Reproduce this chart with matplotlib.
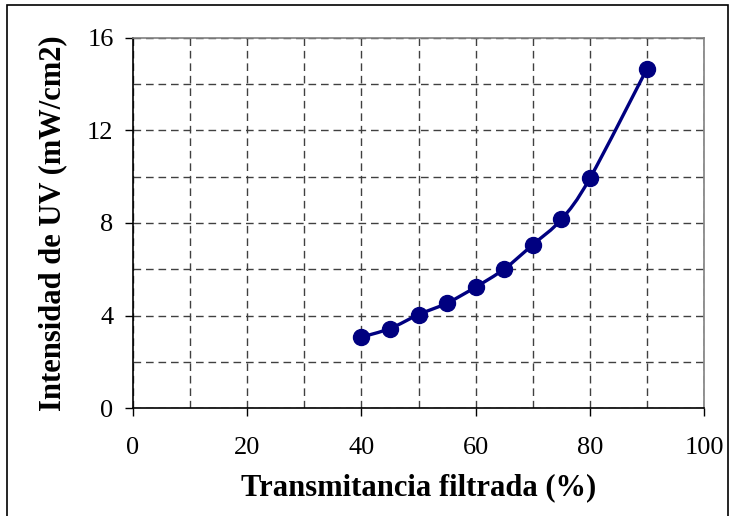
import matplotlib
matplotlib.use('Agg')

import numpy as np
import matplotlib.pyplot as plt
from matplotlib.path import Path
from matplotlib.patches import PathPatch, Rectangle

# Data
transmitancia = [40, 45, 50, 55, 60, 65, 70, 75, 80, 90]
intensidad = [3.07, 3.44, 4.04, 4.54, 5.23, 6.01, 7.06, 8.15, 9.93, 14.66]

x_ticks = [0, 20, 40, 60, 80, 100]
y_ticks = [0, 4, 8, 12, 16]

navy = '#000080'

plt.rcParams['font.family'] = ['Liberation Serif', 'DejaVu Serif']


def smooth_path(xs, ys, tension=1 / 6):
    # Catmull-Rom style Bezier segments through the points (Excel "smoothed line")
    xs = np.asarray(xs, float)
    ys = np.asarray(ys, float)
    n = len(xs)
    verts = [(xs[0], ys[0])]
    codes = [Path.MOVETO]
    for i in range(n - 1):
        i0 = max(i - 1, 0)
        i3 = min(i + 2, n - 1)
        c1 = (xs[i] + (xs[i + 1] - xs[i0]) * tension, ys[i] + (ys[i + 1] - ys[i0]) * tension)
        c2 = (xs[i + 1] - (xs[i3] - xs[i]) * tension, ys[i + 1] - (ys[i3] - ys[i]) * tension)
        verts += [c1, c2, (xs[i + 1], ys[i + 1])]
        codes += [Path.CURVE4] * 3
    return Path(verts, codes)


fig = plt.figure(figsize=(7.35, 5.16), dpi=100)
ax = fig.add_axes([0.181, 0.209, 0.777, 0.718])

ax.add_patch(PathPatch(smooth_path(transmitancia, intensidad), facecolor='none',
                       edgecolor=navy, linewidth=2.4, zorder=3))
ax.plot(transmitancia, intensidad, linestyle='none', marker='o', markersize=11.5,
        color=navy, zorder=4)

ax.set_xlim(0, 100)
ax.set_ylim(0, 16)
ax.set_xticks(x_ticks)
ax.set_yticks(y_ticks)
ax.set_xticks(np.arange(10, 100, 20), minor=True)
ax.set_yticks(np.arange(2, 16, 4), minor=True)
ax.tick_params(which='major', direction='out', length=6, width=1, labelsize=19,
               colors='black')
ax.tick_params(axis='x', which='major', pad=15)
ax.tick_params(axis='y', which='major', pad=8)
ax.tick_params(which='minor', length=0)

ax.grid(True, which='both', color='#404040', linestyle=(0, (5.5, 3.5)), linewidth=1)
ax.set_axisbelow(True)

for side in ['top', 'right']:
    ax.spines[side].set_color('#808080')
    ax.spines[side].set_linewidth(1.2)
for side in ['left', 'bottom']:
    ax.spines[side].set_color('black')
    ax.spines[side].set_linewidth(1.2)

ax.set_xlabel('Transmitancia filtrada (%)', fontsize=22, fontweight='bold', labelpad=10)
ax.set_ylabel('Intensidad de UV (mW/cm2)', fontsize=22, fontweight='bold', labelpad=14)

# Outer chart border
fig.patches.append(Rectangle((0.01, -0.01), 0.98, 1.0, transform=fig.transFigure,
                             fill=False, edgecolor='black', linewidth=1.2))

fig.savefig('out.png', dpi=100)
